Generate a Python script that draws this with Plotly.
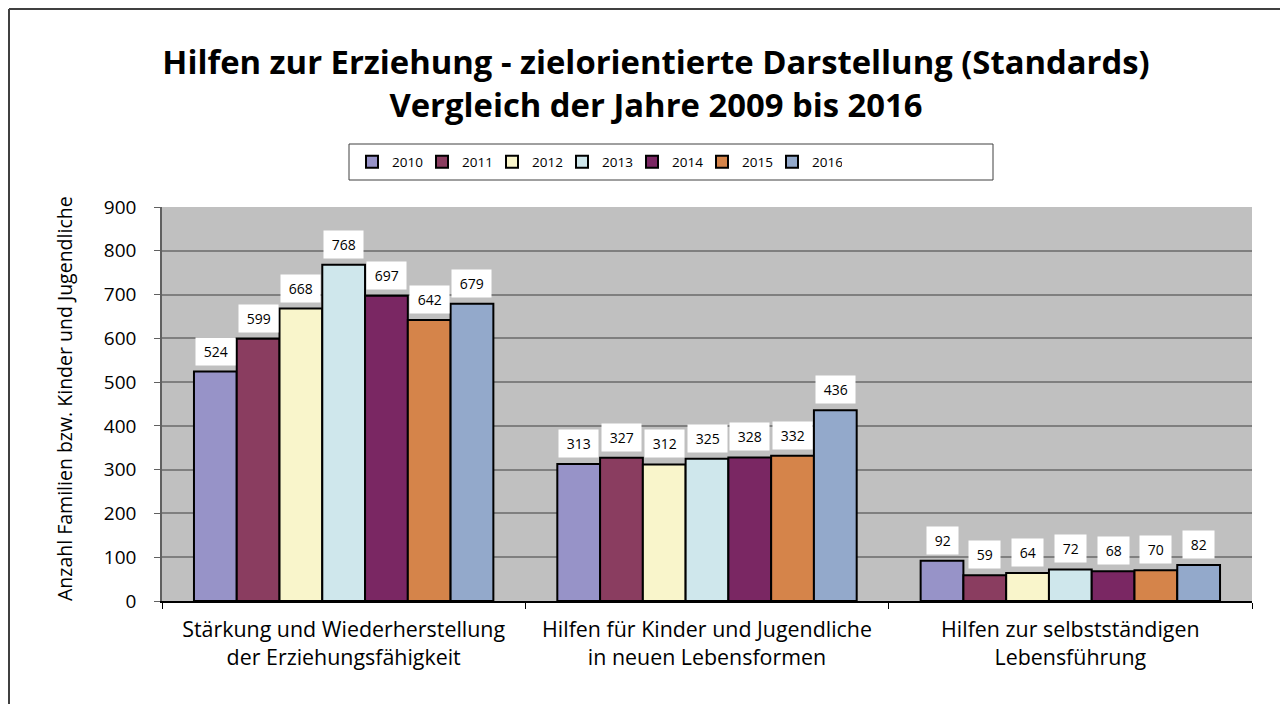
import plotly.graph_objects as go

categories = [
    "Stärkung und Wiederherstellung<br>der Erziehungsfähigkeit",
    "Hilfen für Kinder und Jugendliche<br>in neuen Lebensformen",
    "Hilfen zur selbstständigen<br>Lebensführung",
]
years = ["2010", "2011", "2012", "2013", "2014", "2015", "2016"]
values = {
    "2010": [524, 313, 92],
    "2011": [599, 327, 59],
    "2012": [668, 312, 64],
    "2013": [768, 325, 72],
    "2014": [697, 328, 68],
    "2015": [642, 332, 70],
    "2016": [679, 436, 82],
}
colors = ["#9793C8", "#8A3D60", "#F9F5CB", "#CFE7EC", "#7A2763", "#D5844A", "#93A9CB"]
y_ticks = [0, 100, 200, 300, 400, 500, 600, 700, 800, 900]

FONT = "Open Sans"
BARGAP = 0.176
n = len(years)

# page has an 8px body margin; the figure is sized to fit the window
OFF = 8
W, H = 1288 - OFF, 704 - OFF
L, R, T, B = 162 - OFF, 36, 207 - OFF, 704 - 601
PW, PH = W - L - R, H - T - B


def px(page_x):
    return (page_x - OFF - L) / PW


def py(page_y):
    return (H - B - (page_y - OFF)) / PH


fig = go.Figure()
for i, yr in enumerate(years):
    fig.add_trace(go.Bar(
        name=yr, x=categories, y=values[yr],
        marker=dict(color=colors[i], line=dict(color="#000000", width=2)),
    ))

# data labels in white boxes
w = (1 - BARGAP) / n
annotations = []
for i, yr in enumerate(years):
    for c, v in enumerate(values[yr]):
        annotations.append(dict(
            x=c - (1 - BARGAP) / 2 + (i + 0.5) * w, y=v, xref="x", yref="y",
            text="\u00a0" + str(v) + "\u00a0", showarrow=False, yanchor="bottom", yshift=6,
            bgcolor="white", borderpad=4,
            font=dict(family=FONT, size=14, color="#000"),
        ))

# y axis title
annotations.append(dict(
    x=px(64), y=py(399), xref="paper", yref="paper", textangle=-90,
    xanchor="center", yanchor="middle",
    text="Anzahl Familien bzw. Kinder und Jugendliche", showarrow=False,
    font=dict(family=FONT, size=19.5, color="#000"),
))

shapes = [
    # outer chart border (left and top edges visible)
    dict(type="line", xref="paper", yref="paper", x0=px(9), x1=px(9), y0=py(9), y1=py(720),
         line=dict(color="#404040", width=2)),
    dict(type="line", xref="paper", yref="paper", x0=px(9), x1=px(1300), y0=py(9), y1=py(9),
         line=dict(color="#404040", width=2)),
    # legend box
    dict(type="rect", xref="paper", yref="paper", x0=px(349), x1=px(993), y0=py(144), y1=py(180),
         line=dict(color="#404040", width=1), fillcolor="white", layer="below"),
]

fig.update_layout(
    width=W, height=H,
    margin=dict(l=L, r=R, t=T, b=B),
    paper_bgcolor="white", plot_bgcolor="#C0C0C0",
    barmode="group", bargap=BARGAP, bargroupgap=0,
    font=dict(family=FONT, color="#000"),
    title=dict(
        text="<b>Hilfen zur Erziehung - zielorientierte Darstellung (Standards)<br>Vergleich der Jahre 2009 bis 2016</b>",
        x=(656 - OFF) / W, xref="container", xanchor="center",
        y=1 - (74 - OFF) / H, yref="container", yanchor="middle",
        font=dict(family=FONT, size=32.8, color="#000"),
    ),
    legend=dict(
        orientation="h", x=px(352), xanchor="left", y=py(162), yanchor="middle",
        bgcolor="rgba(0,0,0,0)", borderwidth=0,
        font=dict(family=FONT, size=13.5, color="#000"),
        entrywidth=25, entrywidthmode="pixels", itemwidth=30,
        traceorder="normal",
    ),
    xaxis=dict(
        type="category", tickson="boundaries", ticks="outside", ticklen=6,
        tickcolor="#000", showline=True, linecolor="#000", linewidth=1.5,
        tickfont=dict(family=FONT, size=21.4, color="#000"),
        ticklabelstandoff=9,
        showgrid=False,
    ),
    yaxis=dict(
        range=[0, 900], tickvals=y_ticks, ticks="outside", ticklen=6,
        tickcolor="#606060", showline=True, linecolor="#606060", linewidth=1.5,
        gridcolor="#7F7F7F", gridwidth=1.5,
        tickfont=dict(family=FONT, size=19, color="#000"),
        ticklabelstandoff=14,
        zeroline=False,
    ),
    annotations=annotations,
    shapes=shapes,
)

fig.write_html("out.html")
